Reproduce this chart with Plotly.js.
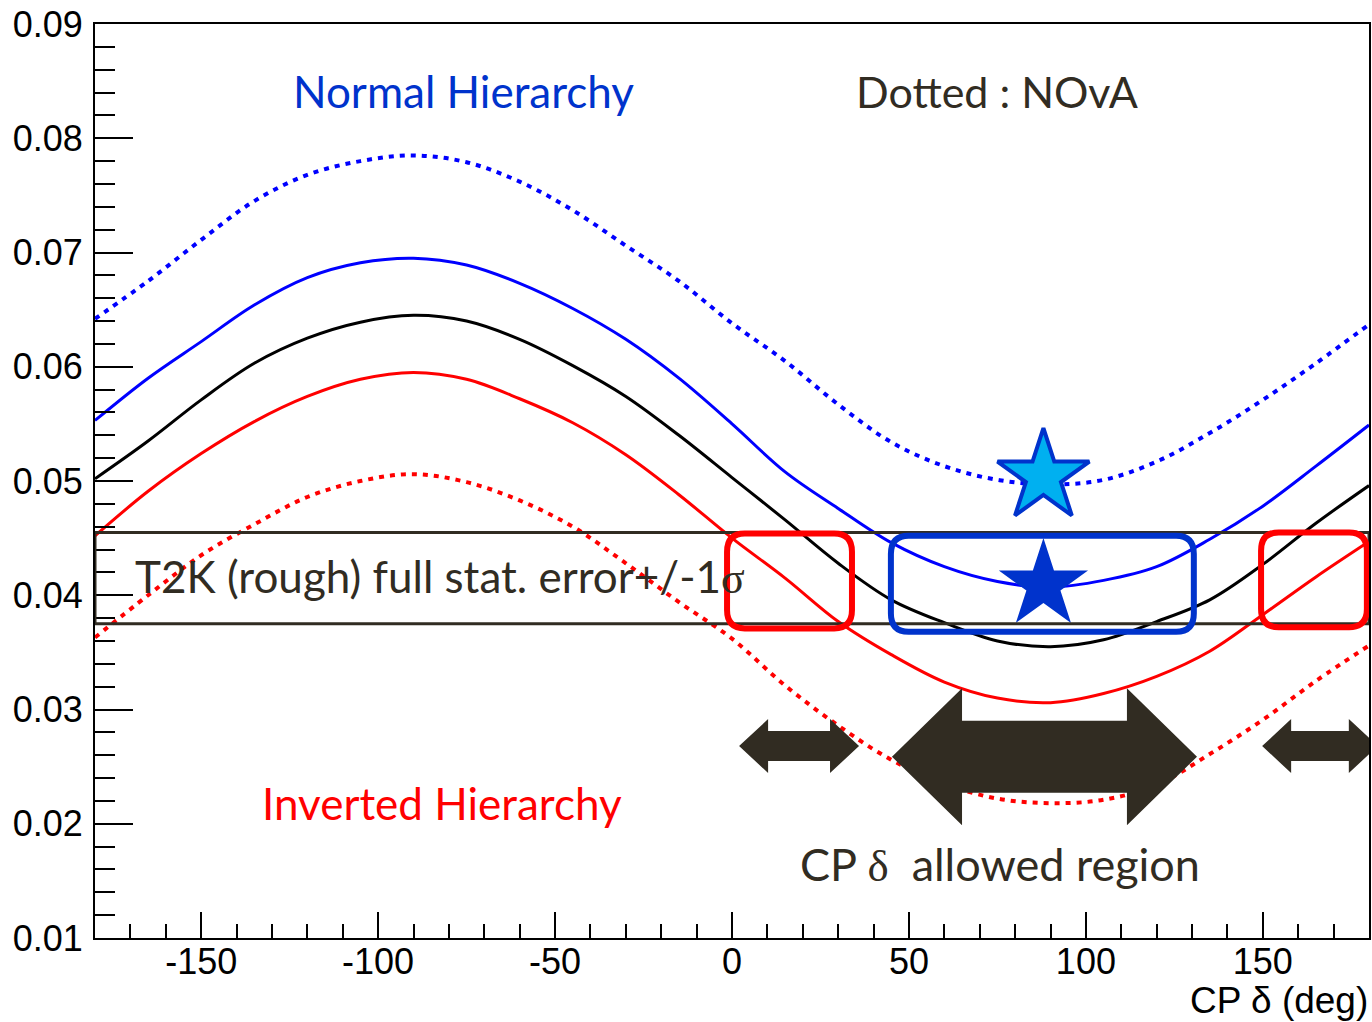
<!DOCTYPE html>
<html>
<head>
<meta charset="utf-8">
<script src="https://cdn.plot.ly/plotly-3.0.1.min.js"></script>
<style>html,body{margin:0;padding:0;background:#fff;}#chart{width:1372px;height:1022px;}</style>
</head>
<body>
<div id="chart"></div>
<script>
// ---- data ----
var cpDelta = [-180,-165,-150,-135,-120,-105,-90,-75,-60,-45,-30,-15,0,15,30,45,60,75,90,105,120,135,150,165,180];
var t2kNH   = [0.0553,0.0590,0.0622,0.0654,0.0678,0.0691,0.0695,0.0689,0.0673,0.0651,0.0624,0.0590,0.0550,0.0508,0.0476,0.0446,0.0425,0.0412,0.0407,0.0413,0.0425,0.0449,0.0478,0.0513,0.0549];
var t2kMid  = [0.0502,0.0535,0.0571,0.0603,0.0625,0.0639,0.0645,0.0640,0.0624,0.0601,0.0574,0.0540,0.0503,0.0466,0.0428,0.0396,0.0376,0.0360,0.0355,0.0361,0.0377,0.0396,0.0427,0.0463,0.0496];
var t2kIH   = [0.0452,0.0491,0.0524,0.0552,0.0574,0.0589,0.0595,0.0589,0.0572,0.0551,0.0523,0.0488,0.0450,0.0415,0.0377,0.0348,0.0324,0.0310,0.0306,0.0314,0.0329,0.0351,0.0383,0.0416,0.0447];
var novaNH  = [0.0642,0.0675,0.0711,0.0745,0.0768,0.0780,0.0785,0.0779,0.0762,0.0737,0.0706,0.0675,0.0638,0.0605,0.0567,0.0534,0.0513,0.0501,0.0497,0.0501,0.0517,0.0542,0.0571,0.0603,0.0637];
var novaIH  = [0.0363,0.0400,0.0435,0.0462,0.0486,0.0500,0.0506,0.0499,0.0483,0.0460,0.0428,0.0394,0.0362,0.0321,0.0286,0.0256,0.0235,0.0222,0.0218,0.0221,0.0234,0.0261,0.0291,0.0325,0.0356];
var starX   = [88, 88];
var starY   = [0.0504, 0.0409];
var bandLow = 0.0375, bandHigh = 0.0455;
var xTickVals = [-150, -100, -50, 0, 50, 100, 150];
var xTickText = ['-150', '-100', '-50', '0', '50', '100', '150'];

// ---- styles / annotation geometry ----
var DARK = '#312c22', BLUE = '#0000ff', RED = '#ff0000', NAVY = '#0033cc';

function roundRect(x0, x1, y0, y1, rx, ry) {
  return 'M' + (x0+rx) + ',' + y1 + ' L' + (x1-rx) + ',' + y1 +
         ' Q' + x1 + ',' + y1 + ' ' + x1 + ',' + (y1-ry) +
         ' L' + x1 + ',' + (y0+ry) +
         ' Q' + x1 + ',' + y0 + ' ' + (x1-rx) + ',' + y0 +
         ' L' + (x0+rx) + ',' + y0 +
         ' Q' + x0 + ',' + y0 + ' ' + x0 + ',' + (y0+ry) +
         ' L' + x0 + ',' + (y1-ry) +
         ' Q' + x0 + ',' + y1 + ' ' + (x0+rx) + ',' + y1 + ' Z';
}
function dblArrow(xa, xb, c, hl, hh, sh) {
  var p = [[xa,c],[xa+hl,c+hh],[xa+hl,c+sh],[xb-hl,c+sh],[xb-hl,c+hh],[xb,c],
           [xb-hl,c-hh],[xb-hl,c-sh],[xa+hl,c-sh],[xa+hl,c-hh]];
  return 'M' + p.map(function(q){return q[0]+','+q[1];}).join(' L') + ' Z';
}

var traces = [
  {x: cpDelta, y: novaNH, mode: 'lines', line: {color: BLUE, width: 4, dash: '5px,6px', shape: 'spline', smoothing: 1}, hoverinfo: 'skip'},
  {x: cpDelta, y: novaIH, mode: 'lines', line: {color: RED, width: 4, dash: '5px,6px', shape: 'spline', smoothing: 1}, hoverinfo: 'skip'},
  {x: cpDelta, y: t2kNH, mode: 'lines', line: {color: BLUE, width: 3, shape: 'spline', smoothing: 1}, hoverinfo: 'skip'},
  {x: cpDelta, y: t2kMid, mode: 'lines', line: {color: '#000000', width: 3, shape: 'spline', smoothing: 1}, hoverinfo: 'skip'},
  {x: cpDelta, y: t2kIH, mode: 'lines', line: {color: RED, width: 3, shape: 'spline', smoothing: 1}, hoverinfo: 'skip'},
  {x: starX, y: starY, mode: 'markers', cliponaxis: false, hoverinfo: 'skip',
   marker: {symbol: 'star', size: [69, 67], opacity: 1, color: ['#00b0f0', NAVY], line: {color: NAVY, width: [4, 0]}}}
];

var ry = 0.0016, rx = 5;
var shapes = [
  {type: 'rect', xref: 'x', yref: 'y', x0: -180, x1: 180, y0: bandLow, y1: bandHigh, line: {color: DARK, width: 3}, layer: 'above'},
  {type: 'path', xref: 'x', yref: 'y', path: roundRect(-1.4, 33.9, 0.0371, 0.0454, rx, ry), line: {color: RED, width: 6}, layer: 'above'},
  {type: 'path', xref: 'x', yref: 'y', path: roundRect(44.9, 130.5, 0.0368, 0.0452, rx, ry), line: {color: NAVY, width: 6}, layer: 'above'},
  {type: 'path', xref: 'x', yref: 'y', path: roundRect(149.5, 179.4, 0.0372, 0.0455, rx, ry), line: {color: RED, width: 6}, layer: 'above'},
  {type: 'path', xref: 'x', yref: 'y', path: dblArrow(2.0, 35.9, 0.0268, 8.2, 0.00236, 0.00131), fillcolor: DARK, line: {width: 0}, layer: 'above'},
  {type: 'path', xref: 'x', yref: 'y', path: dblArrow(45.2, 131.4, 0.02587, 19.8, 0.0060, 0.00315), fillcolor: DARK, line: {width: 0}, layer: 'above'},
  {type: 'path', xref: 'x', yref: 'y', path: dblArrow(149.8, 182.5, 0.0268, 8.2, 0.00236, 0.00131), fillcolor: DARK, line: {width: 0}, layer: 'above'}
];

var TXT = 'Lato, "Noto Sans", sans-serif';
var annotations = [
  {text: 'Normal Hierarchy', x: -76, y: 0.0841, xref: 'x', yref: 'y', showarrow: false, xanchor: 'center', yanchor: 'middle', font: {family: TXT, size: 44, color: NAVY}},
  {text: 'Dotted : NOvA', x: 74.9, y: 0.0841, xref: 'x', yref: 'y', showarrow: false, xanchor: 'center', yanchor: 'middle', font: {family: TXT, size: 43, color: DARK}},
  {text: 'Inverted Hierarchy', x: -81.9, y: 0.0218, xref: 'x', yref: 'y', showarrow: false, xanchor: 'center', yanchor: 'middle', font: {family: TXT, size: 44, color: RED}},
  {text: 'CP <span style="font-family:\'Liberation Serif\',serif">δ</span>  allowed region', x: 75.7, y: 0.0165, xref: 'x', yref: 'y', showarrow: false, xanchor: 'center', yanchor: 'middle', font: {family: TXT, size: 45, color: DARK}},
  {text: 'T2K (rough) full stat. error+/-1<span style="font-family:\'Liberation Serif\',serif">σ</span>', x: -169.3, y: 0.0416, xref: 'x', yref: 'y', showarrow: false, xanchor: 'left', yanchor: 'middle', font: {family: TXT, size: 44, color: DARK}},
  {text: 'CP δ (deg)', x: 1, y: 0, xref: 'paper', yref: 'paper', yshift: -62, xshift: 1, showarrow: false, xanchor: 'right', yanchor: 'middle', font: {family: 'Liberation Sans, Arial, sans-serif', size: 37, color: '#000000'}}
];

var layout = {
  width: 1372, height: 1022,
  margin: {l: 95, r: 3, t: 24, b: 84, pad: 0},
  paper_bgcolor: '#ffffff', plot_bgcolor: '#ffffff',
  showlegend: false,
  font: {family: 'Liberation Sans, Arial, sans-serif', color: '#000000'},
  xaxis: {
    range: [-180, 180], tickmode: 'array', tickvals: xTickVals, ticktext: xTickText,
    ticks: 'inside', ticklen: 26, tickwidth: 2, tickcolor: '#000',
    minor: {tickmode: 'linear', tick0: 0, dtick: 10, ticks: 'inside', ticklen: 14, tickwidth: 2, tickcolor: '#000'},
    showgrid: false, zeroline: false, showline: true, mirror: true, linecolor: '#000', linewidth: 2,
    tickfont: {size: 36, color: '#000'}, ticklabelstandoff: -9
  },
  yaxis: {
    range: [0.01, 0.09], tick0: 0, dtick: 0.01, tickformat: '.2f', ticks: 'inside', ticklen: 38, tickwidth: 2, tickcolor: '#000',
    minor: {dtick: 0.002, ticks: 'inside', ticklen: 20, tickwidth: 2, tickcolor: '#000'},
    showgrid: false, zeroline: false, showline: true, mirror: true, linecolor: '#000', linewidth: 2,
    tickfont: {size: 36, color: '#000'}, ticklabelstandoff: 3
  },
  shapes: shapes,
  annotations: annotations
};

Plotly.newPlot('chart', traces, layout, {staticPlot: true, displayModeBar: false});
</script>
</body>
</html>
